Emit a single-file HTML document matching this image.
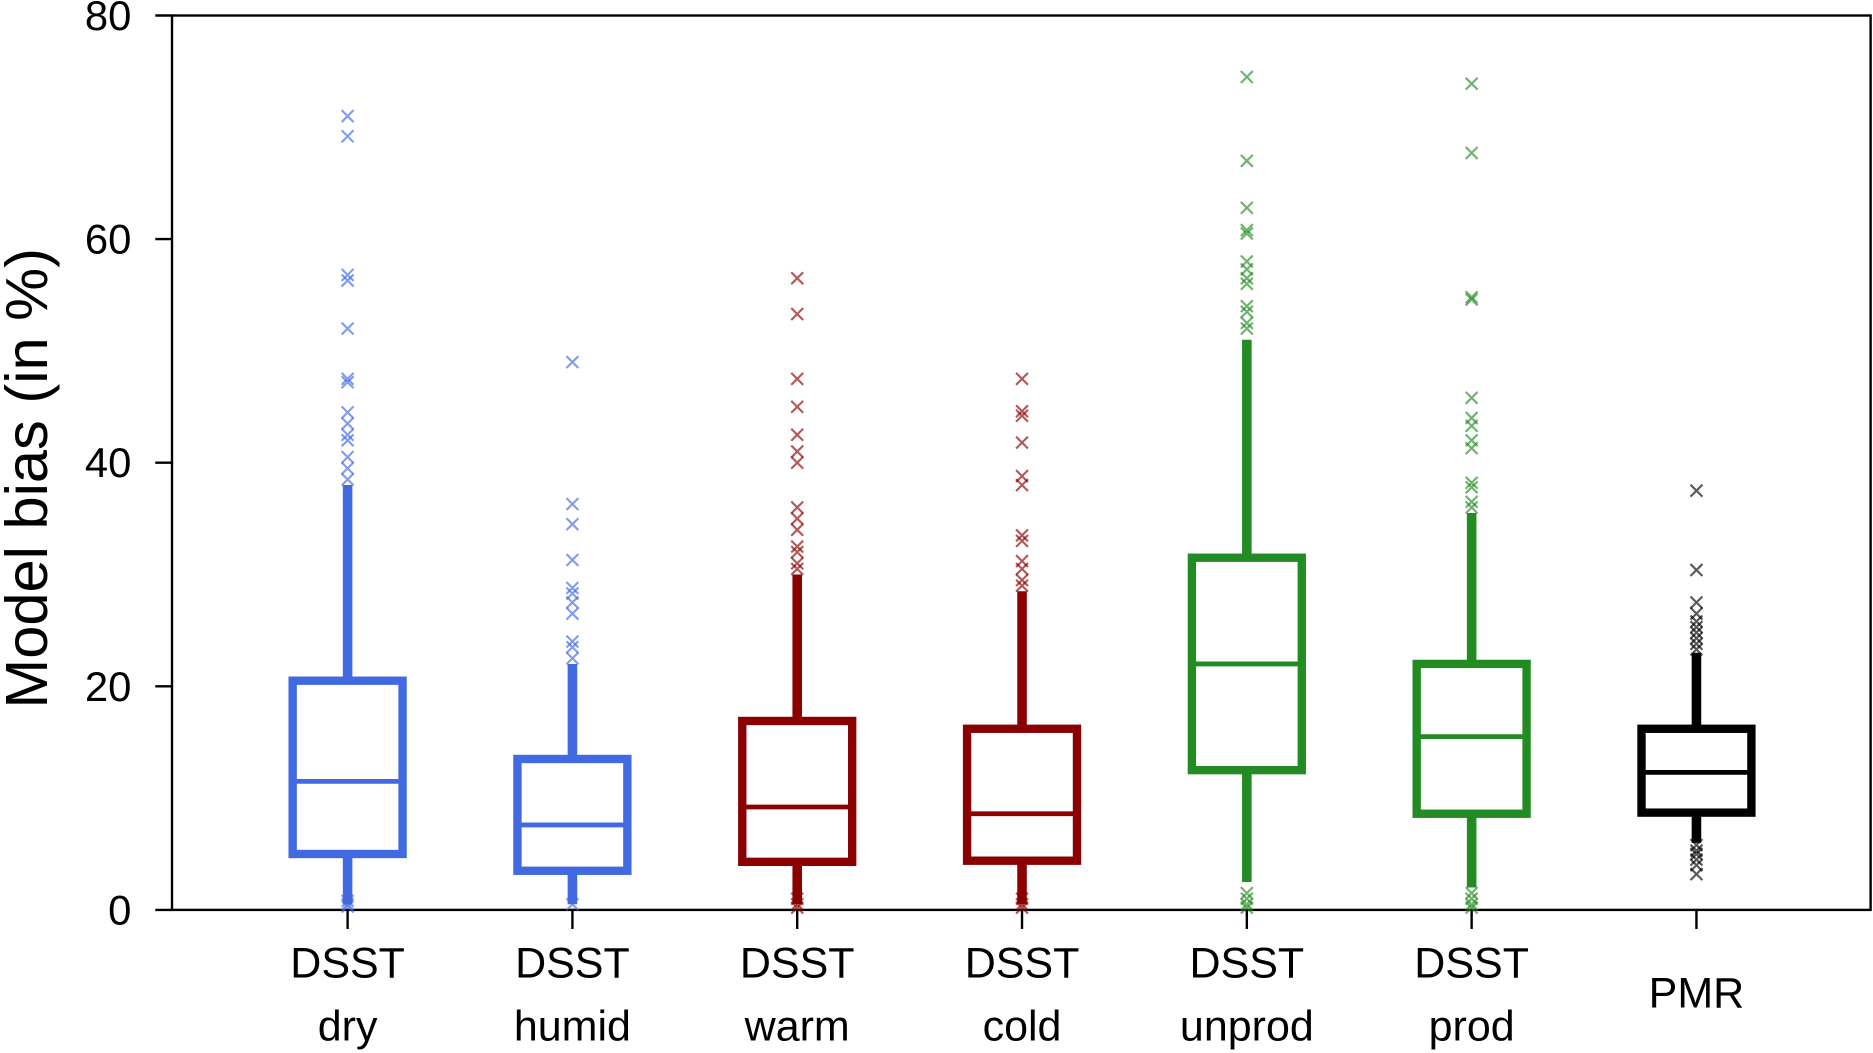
<!DOCTYPE html>
<html><head><meta charset="utf-8"><style>
html,body{margin:0;padding:0;background:#fff;}
svg{display:block;font-family:"Liberation Sans",Arial,sans-serif;}
</style></head><body>
<svg id="chart" width="1873" height="1053" viewBox="0 0 1568 883" preserveAspectRatio="none" xmlns="http://www.w3.org/2000/svg">
<rect x="144" y="13" width="1422" height="750" fill="none" stroke="#000" stroke-width="2"/>
<text x="22" y="401" font-size="50" text-anchor="middle" transform="rotate(-90 22 401)" dominant-baseline="central">Model bias (in %)</text>
<g id="axes"></g>
<g id="marks"></g>
</svg>
<script>
const categories = ["DSST dry","DSST humid","DSST warm","DSST cold","DSST unprod","DSST prod","PMR"];
const labelLine1 = ["DSST","DSST","DSST","DSST","DSST","DSST","PMR"];
const labelLine2 = ["dry","humid","warm","cold","unprod","prod",""];
const colors = ["#4169E1","#4169E1","#8B0000","#8B0000","#228B22","#228B22","#000000"];
const q1 = [5, 3.5, 4.3, 4.4, 12.5, 8.6, 8.7];
const median = [11.5, 7.6, 9.2, 8.6, 22, 15.5, 12.3];
const q3 = [20.5, 13.5, 16.9, 16.2, 31.5, 22, 16.2];
const whiskerLow = [0.5, 0.5, 0.5, 0.5, 2.5, 2, 6];
const whiskerHigh = [38, 22, 30, 28.5, 51, 35.5, 23];
const outliers = [
 [71,69.2,56.8,56.3,52,47.5,47.2,44.5,43.5,42.5,42,40.5,39.5,38.5,0.8,0.5,0.3],
 [49,36.3,34.5,31.3,28.8,28.3,27.5,26.5,24,23.5,22.5,0.5],
 [56.5,53.3,47.5,45,42.5,41,40,36,35,34,32.5,32,31,30.5,1,0.5,0.2],
 [47.5,44.6,44.2,41.8,38.8,38,33.5,33,31.2,30.5,29.5,29,1,0.5,0.2],
 [74.5,67,62.8,60.8,60.5,58,57.3,56.5,56,54,53.5,52.5,52,1.5,1,0.5,0.2],
 [73.9,67.7,54.8,54.6,45.8,44,43.3,42,41.3,38.2,37.8,36.5,36,1.5,1,0.5,0.2],
 [37.5,30.4,27.5,26.5,25.8,25.3,24.8,24.3,23.8,23.3,5.8,5.3,5,4.5,4,3.2]
];
const yTicks = [0,20,40,60,80];

const NS="http://www.w3.org/2000/svg";
const yScale = v => 763 - v*(750/80);
const xScale = i => 291 + i*188.2;
const axes=document.getElementById('axes'), marks=document.getElementById('marks');
function mk(tag, attrs, parent){const e=document.createElementNS(NS,tag);for(const k in attrs)e.setAttribute(k,attrs[k]);parent.appendChild(e);return e;}

yTicks.forEach(t=>{
  const y=yScale(t);
  const tk=mk('line',{x1:130,x2:144,y1:y,y2:y,stroke:'#000','stroke-width':2},axes);
  
  
  const tx=mk('text',{x:110,y:y,'font-size':35,'text-anchor':'end','dominant-baseline':'central'},axes);
  tx.textContent=t;
  
  
});

categories.forEach((c,i)=>{
  const x=xScale(i), col=colors[i], hw=46;
  const tk=mk('line',{x1:x,x2:x,y1:763,y2:779,stroke:'#000','stroke-width':2},axes);
  
  
  const g=mk('g',{},axes);
  
  
  if(labelLine2[i]){
    mk('text',{x:x,y:808,'font-size':36,'text-anchor':'middle','dominant-baseline':'central'},g).textContent=labelLine1[i];
    mk('text',{x:x,y:861,'font-size':36,'text-anchor':'middle','dominant-baseline':'central'},g).textContent=labelLine2[i];
  } else {
    mk('text',{x:x,y:833,'font-size':36,'text-anchor':'middle','dominant-baseline':'central'},g).textContent=labelLine1[i];
  }
  const bg=mk('g',{},marks);
  
  
  const w1=mk('line',{x1:x,x2:x,y1:yScale(q3[i]),y2:yScale(whiskerHigh[i]),stroke:col,'stroke-width':8},bg);
  
  
  const w2=mk('line',{x1:x,x2:x,y1:yScale(q1[i]),y2:yScale(whiskerLow[i]),stroke:col,'stroke-width':8},bg);
  
  
  const r=mk('rect',{x:x-hw,y:yScale(q3[i]),width:hw*2,height:yScale(q1[i])-yScale(q3[i]),fill:'#fff',stroke:col,'stroke-width':7},bg);
  
  
  const m=mk('line',{x1:x-hw,x2:x+hw,y1:yScale(median[i]),y2:yScale(median[i]),stroke:col,'stroke-width':4},bg);
  
  
  outliers[i].forEach(v=>{
    const y=yScale(v), s=5;
    const p=mk('path',{d:`M${x-s},${y-s}L${x+s},${y+s}M${x-s},${y+s}L${x+s},${y-s}`,stroke:col,'stroke-width':1.8,'stroke-opacity':0.65,fill:'none'},bg);
    
    
  });
});
</script>
</body></html>
